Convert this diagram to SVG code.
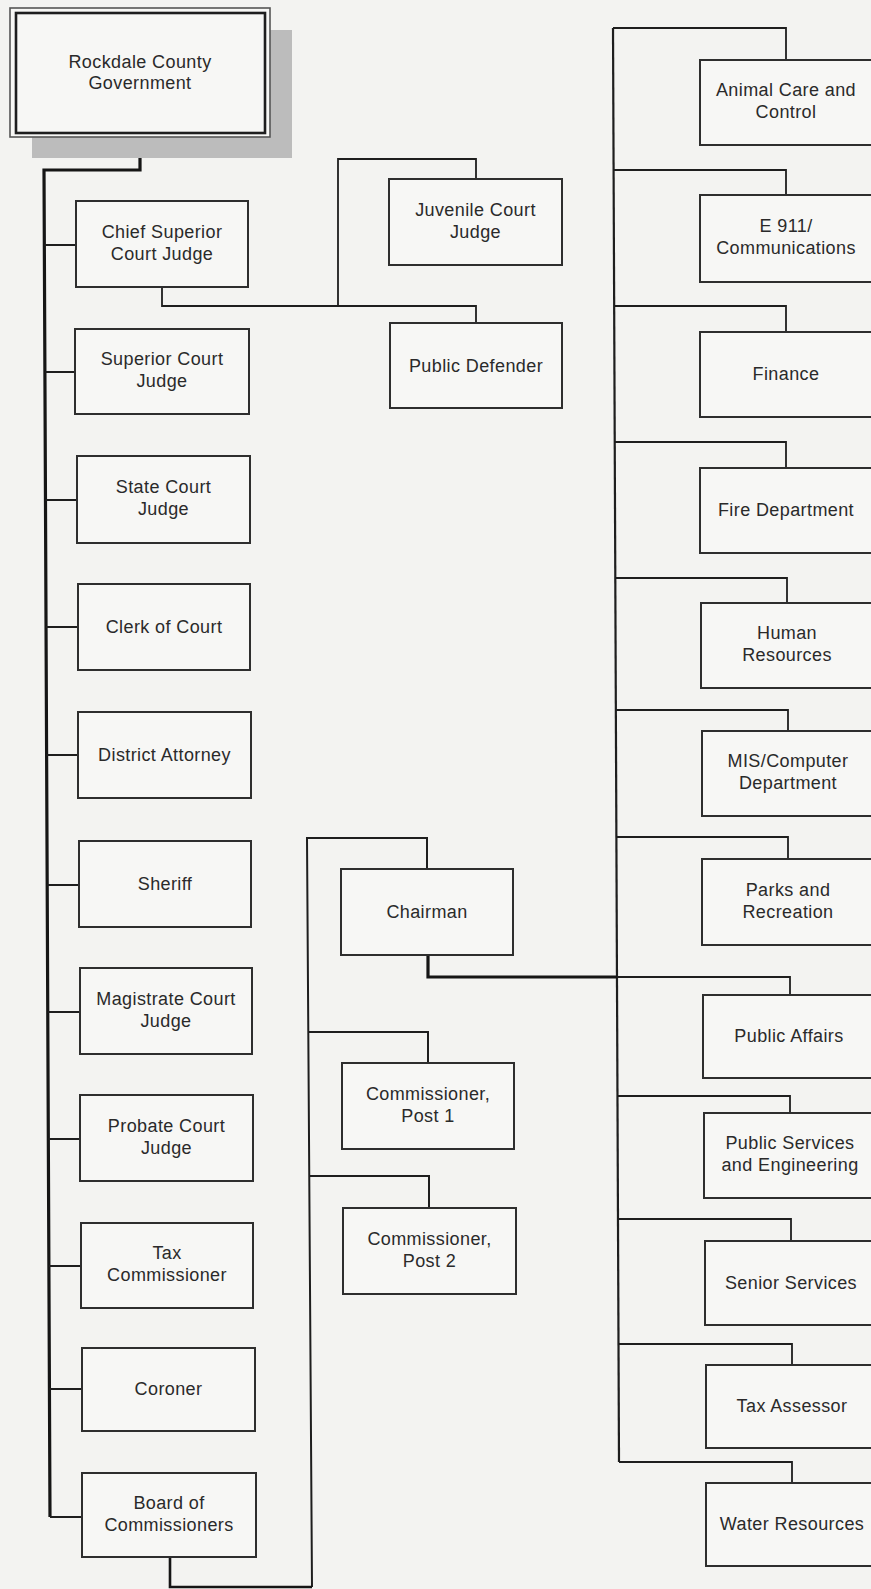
<svg xmlns="http://www.w3.org/2000/svg" width="871" height="1589" viewBox="0 0 871 1589">
<style>
.bx{fill:#f7f7f5;stroke:#2e2e2e;stroke-width:2}
.t{font-family:"Liberation Sans",Arial,sans-serif;font-size:18px;letter-spacing:0.4px;fill:#2a2a2a;text-anchor:middle}
.c{fill:none;stroke:#1e1e1e;stroke-width:1.8;stroke-linejoin:miter}
.ck{fill:none;stroke:#151515;stroke-width:3.2;stroke-linejoin:miter}
</style>
<rect x="0" y="0" width="871" height="1589" fill="#f3f3f1"/>
<g id="connectors">
<path class="ck" d="M140,137 V170 H44 L50,1517"/>
<path class="c" d="M44.3,245 H76 M44.9,372 H75 M45.5,500 H77 M46,627 H78 M46.6,755 H78 M47.2,885 H79 M47.75,1012 H80 M48.3,1139 H80 M48.9,1266 H81 M49.4,1389 H82 M50,1517 H82"/>
<path class="c" d="M162,287 V306 H476 V323 M338,306 V159 H476 V179"/>
<path class="c" style="stroke-width:2.2" d="M613,28 L619,1462"/>
<path class="c" d="M613,28 H786 V60 M613.6,170 H786 V195 M614.2,306 H786 V332 M614.7,442 H786 V468 M615.3,578 H787 V603 M615.9,710 H788 V731 M616.4,837 H788 V859 M617,977 H790 V995 M617.5,1096 H790 V1113 M618,1219 H791 V1241 M618.5,1344 H792 V1365 M619,1462 H792 V1483"/>
<path class="ck" d="M428,955 V977 H617"/>
<path class="c" style="stroke-width:2" d="M312,1587 L307,838 H427 V869 M308.3,1032 H428 V1063 M309.3,1176 H429 V1208"/>
<path class="ck" style="stroke-width:2.6" d="M170,1557 V1587 H312"/>
</g>
<g id="root">
<rect x="32" y="30" width="260" height="128" fill="#bcbcbc"/>
<rect x="10" y="8" width="260" height="129" fill="#f7f7f5" stroke="#555" stroke-width="1.6"/>
<rect x="16" y="13" width="249" height="120" fill="#f7f7f5" stroke="#1e1e1e" stroke-width="2.6"/>
<text class="t" x="140" y="68">Rockdale County</text>
<text class="t" x="140" y="89">Government</text>
</g>
<g id="chief-superior"><rect class="bx" x="76" y="201" width="172" height="86"/><text class="t" x="162" y="238">Chief Superior</text><text class="t" x="162" y="260">Court Judge</text></g>
<g id="superior"><rect class="bx" x="75" y="329" width="174" height="85"/><text class="t" x="162" y="365">Superior Court</text><text class="t" x="162" y="387">Judge</text></g>
<g id="state"><rect class="bx" x="77" y="456" width="173" height="87"/><text class="t" x="163.5" y="493">State Court</text><text class="t" x="163.5" y="515">Judge</text></g>
<g id="clerk"><rect class="bx" x="78" y="584" width="172" height="86"/><text class="t" x="164" y="633">Clerk of Court</text></g>
<g id="da"><rect class="bx" x="78" y="712" width="173" height="86"/><text class="t" x="164.5" y="761">District Attorney</text></g>
<g id="sheriff"><rect class="bx" x="79" y="841" width="172" height="86"/><text class="t" x="165" y="890">Sheriff</text></g>
<g id="magistrate"><rect class="bx" x="80" y="968" width="172" height="86"/><text class="t" x="166" y="1005">Magistrate Court</text><text class="t" x="166" y="1027">Judge</text></g>
<g id="probate"><rect class="bx" x="80" y="1095" width="173" height="86"/><text class="t" x="166.5" y="1132">Probate Court</text><text class="t" x="166.5" y="1154">Judge</text></g>
<g id="tax-commissioner"><rect class="bx" x="81" y="1223" width="172" height="85"/><text class="t" x="167" y="1259">Tax</text><text class="t" x="167" y="1281">Commissioner</text></g>
<g id="coroner"><rect class="bx" x="82" y="1348" width="173" height="83"/><text class="t" x="168.5" y="1395">Coroner</text></g>
<g id="board"><rect class="bx" x="82" y="1473" width="174" height="84"/><text class="t" x="169" y="1509">Board of</text><text class="t" x="169" y="1531">Commissioners</text></g>
<g id="juvenile"><rect class="bx" x="389" y="179" width="173" height="86"/><text class="t" x="475.5" y="216">Juvenile Court</text><text class="t" x="475.5" y="238">Judge</text></g>
<g id="public-defender"><rect class="bx" x="390" y="323" width="172" height="85"/><text class="t" x="476" y="372">Public Defender</text></g>
<g id="chairman"><rect class="bx" x="341" y="869" width="172" height="86"/><text class="t" x="427" y="918">Chairman</text></g>
<g id="post1"><rect class="bx" x="342" y="1063" width="172" height="86"/><text class="t" x="428" y="1100">Commissioner,</text><text class="t" x="428" y="1122">Post 1</text></g>
<g id="post2"><rect class="bx" x="343" y="1208" width="173" height="86"/><text class="t" x="429.5" y="1245">Commissioner,</text><text class="t" x="429.5" y="1267">Post 2</text></g>
<g id="animal"><rect class="bx" x="700" y="60" width="172" height="85"/><text class="t" x="786" y="96">Animal Care and</text><text class="t" x="786" y="118">Control</text></g>
<g id="e911"><rect class="bx" x="700" y="195" width="172" height="87"/><text class="t" x="786" y="232">E 911/</text><text class="t" x="786" y="254">Communications</text></g>
<g id="finance"><rect class="bx" x="700" y="332" width="172" height="85"/><text class="t" x="786" y="380">Finance</text></g>
<g id="fire"><rect class="bx" x="700" y="468" width="172" height="85"/><text class="t" x="786" y="516">Fire Department</text></g>
<g id="hr"><rect class="bx" x="701" y="603" width="172" height="85"/><text class="t" x="787" y="639">Human</text><text class="t" x="787" y="661">Resources</text></g>
<g id="mis"><rect class="bx" x="702" y="731" width="172" height="85"/><text class="t" x="788" y="767">MIS/Computer</text><text class="t" x="788" y="789">Department</text></g>
<g id="parks"><rect class="bx" x="702" y="859" width="172" height="86"/><text class="t" x="788" y="896">Parks and</text><text class="t" x="788" y="918">Recreation</text></g>
<g id="public-affairs"><rect class="bx" x="703" y="995" width="172" height="83"/><text class="t" x="789" y="1042">Public Affairs</text></g>
<g id="public-services"><rect class="bx" x="704" y="1113" width="172" height="85"/><text class="t" x="790" y="1149">Public Services</text><text class="t" x="790" y="1171">and Engineering</text></g>
<g id="senior"><rect class="bx" x="705" y="1241" width="172" height="84"/><text class="t" x="791" y="1289">Senior Services</text></g>
<g id="tax-assessor"><rect class="bx" x="706" y="1365" width="172" height="83"/><text class="t" x="792" y="1412">Tax Assessor</text></g>
<g id="water"><rect class="bx" x="706" y="1483" width="172" height="83"/><text class="t" x="792" y="1530">Water Resources</text></g>
</svg>
